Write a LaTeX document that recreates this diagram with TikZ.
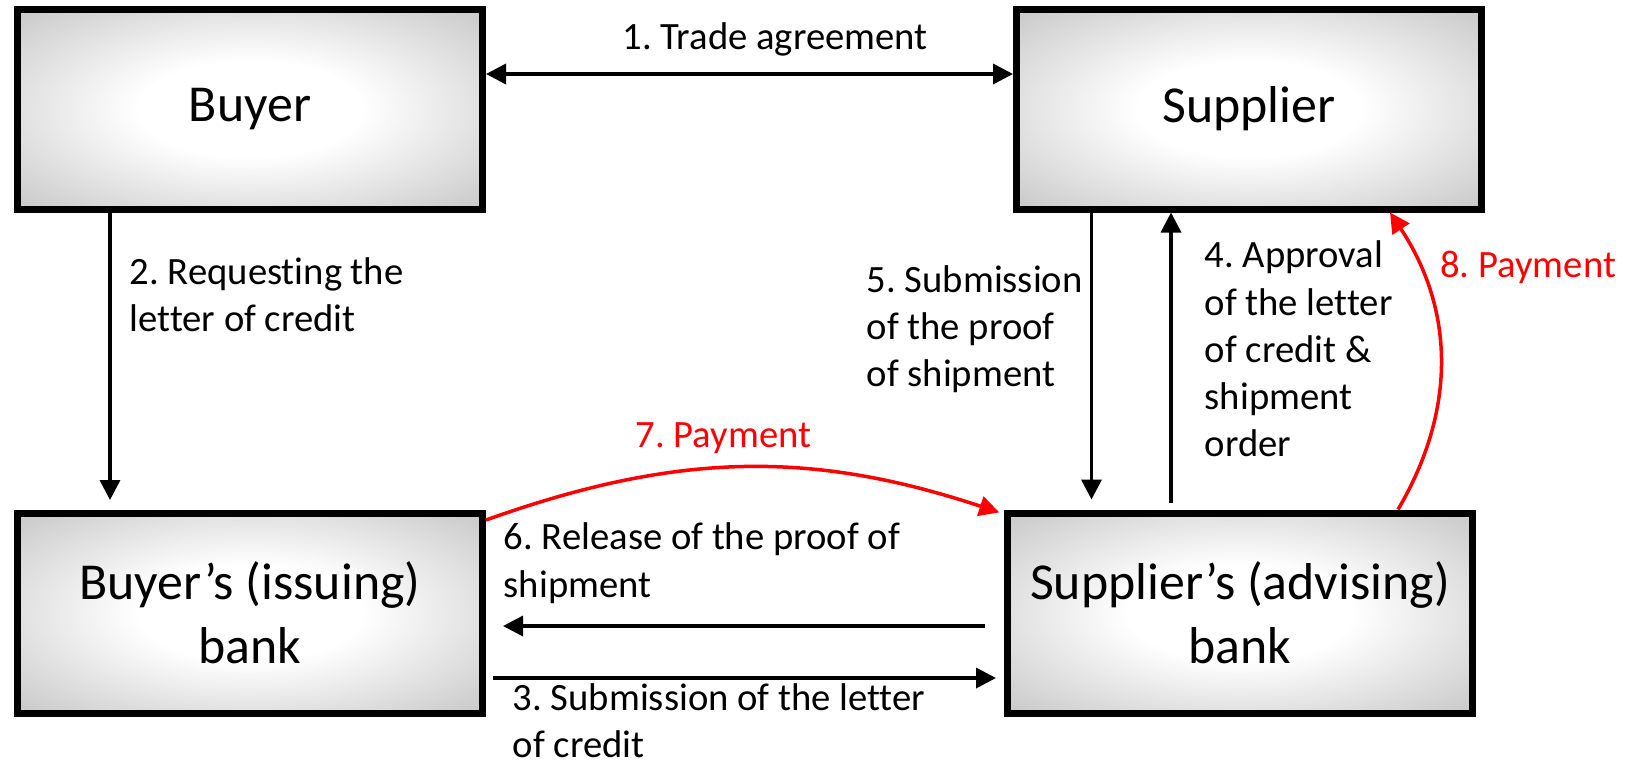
\documentclass[tikz,border=0pt]{standalone}
\usepackage{fontspec}
\setmainfont{Carlito}[Ligatures=NoCommon]
\usetikzlibrary{arrows.meta, positioning, shapes, calc}

% white centre fading to grey at the edges
\pgfdeclareradialshading{boxglow}{\pgfpoint{0bp}{0bp}}{color(0bp)=(white); color(12bp)=(white); color(50bp)=(black!35); color(71bp)=(black!45)}

\begin{document}
\frenchspacing
\begin{tikzpicture}[
    node distance=1cm,
    >={Triangle[length=0.4cm, width=0.4cm]},
    party/.style={rectangle, draw, line width=0.14cm, shading=boxglow, minimum width=9.3cm, minimum height=4cm, align=center, font=\fontsize{29.5}{36.3}\selectfont},
    lbl/.style={inner sep=0pt, align=left, font=\fontsize{22}{26.8}\selectfont},
    arrow/.style={->, line width=0.07cm},
    pay/.style={arrow, red}
]
    \useasboundingbox (0,0) rectangle (32.6,-15.32);

    % Parties
    \node[party] (buyer) at (5,-2.18) {Buyer};
    \node[party, right=10.54cm of buyer] (supplier) {Supplier};

    % Banks
    \node[party, below=5.94cm of buyer] (bbank) {Buyer’s (issuing)\\bank};
    \node[party, right=10.36cm of bbank] (sbank) {Supplier’s (advising)\\bank};

    % Arrows
    \draw[arrow, <->] ([yshift=0.7cm]buyer.east) -- node[lbl, above=0.32cm, xshift=0.51cm] (l1) {1. Trade agreement} ([yshift=0.7cm]supplier.west);
    \draw[arrow, shorten >=0.19cm] ([xshift=-2.8cm]buyer.south) -- node[lbl, pos=0.278, anchor=west, xshift=0.36cm] (l2) {2. Requesting the\\letter of credit} ([xshift=-2.8cm]bbank.north);
    \draw[arrow, shorten <=0.14cm, shorten >=0.16cm] ([yshift=-1.3cm]bbank.east) -- node[lbl, pos=0, below right=0.08cm and 0.5cm] (l3) {3. Submission of the letter\\of credit} ([yshift=-1.3cm]sbank.west);
    \draw[arrow, shorten <=0.14cm] ([xshift=-1.56cm]supplier.south |- sbank.north) -- node[lbl, pos=0.541, anchor=west, xshift=0.64cm] (l4) {4. Approval\\of the letter\\of credit \&\\shipment\\order} ([xshift=-1.56cm]supplier.south);
    \draw[arrow, shorten >=0.2cm] ([xshift=-3.15cm]supplier.south) -- node[lbl, pos=0.392, anchor=east, xshift=-0.14cm] (l5) {5. Submission\\of the proof\\of shipment} ([xshift=-3.15cm]supplier.south |- sbank.north);
    \draw[arrow, shorten <=0.38cm, shorten >=0.34cm] ([yshift=-0.26cm]sbank.west) -- node[lbl, pos=1, above right=0.42cm and 0.32cm] (l6) {6. Release of the proof of\\shipment} ([yshift=-0.26cm]bbank.east);

    % Payments
    \draw[pay, shorten >=0.1cm] ([yshift=1.86cm]bbank.east) to[bend left=19] node[lbl, red, above=0.24cm, xshift=-0.42cm] (l7) {7. Payment} ([yshift=1.98cm]sbank.west);
    \draw[pay] ([xshift=3.16cm]sbank.north) to[bend right=32] ([xshift=2.82cm]supplier.south);
    \node[lbl, red, anchor=west] (l8) at (28.8,-5.35) {8. Payment};

\end{tikzpicture}
\end{document}
